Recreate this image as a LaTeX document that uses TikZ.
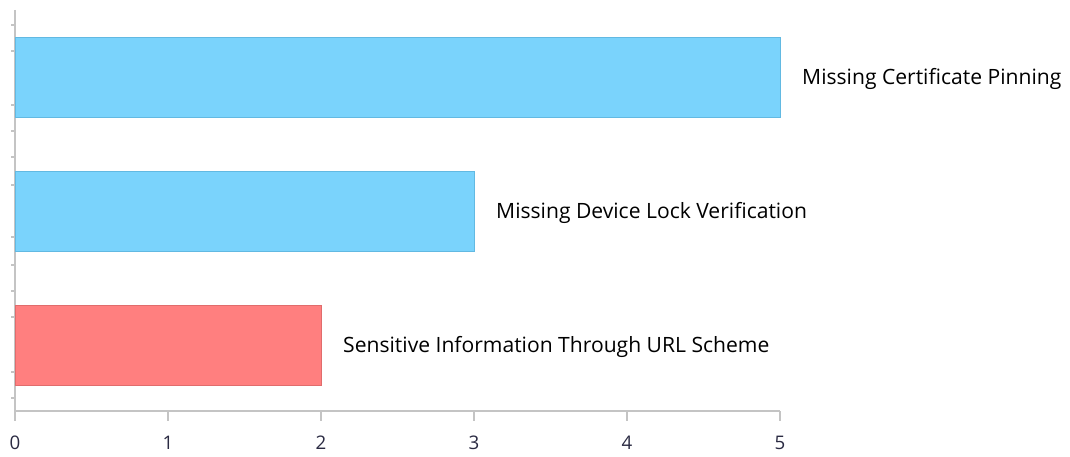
\documentclass[tikz,border=0pt]{standalone}
\usepackage{fontspec}
\setmainfont{Open Sans}
\usetikzlibrary{positioning}
\definecolor{skyFill}{HTML}{7AD3FC}
\definecolor{skyEdge}{HTML}{62B9E2}
\definecolor{roseFill}{HTML}{FF7F7F}
\definecolor{roseEdge}{HTML}{E06C6C}
\definecolor{axisgray}{HTML}{C4C4C4}
\definecolor{numnavy}{HTML}{2A2A42}
\begin{document}
\begin{tikzpicture}
[x=0.03cm,y=-0.03cm,
  bardecorate/.style={draw=#1Edge,fill=#1Fill,line width=0.8pt},
  axisdecorate/.style={draw=axisgray,line width=1.3pt},
  labeldecorate/.style={anchor=west,inner sep=0pt,text=black,
    font=\fontsize{18}{21}\selectfont},
  numdecorate/.style={inner sep=0pt,text=numnavy,
    font=\fontsize{16}{19}\selectfont}]
\useasboundingbox (0,0) rectangle (1070,457);
%% axes
\coordinate (ytop) at (15,10);
\coordinate (origin) at (15,411);
\coordinate (xend) at (780,411);
\draw[axisdecorate] (ytop) -- (origin) -- (xend);
\foreach \y in {25,51,105,131,157,185,237,265,291,317,372,398}
  \draw[axisdecorate] (11,\y) -- (15,\y);
%% ticks and numbers
\foreach \n in {0,...,5}
{
  \coordinate (tick\n) at (15+153*\n,411);
  \draw[axisdecorate] (tick\n) -- ++(0,10);
  \node (num\n) at (15+153*\n,443) [numdecorate] {\n};
}
%% bars and their labels
\foreach \name/\val/\y/\tone/\text in {pinning/5/77/sky/Missing Certificate Pinning,
  devicelock/3/211/sky/Missing Device Lock Verification,
  urlscheme/2/345/rose/Sensitive Information Through URL Scheme}
{
  \draw[bardecorate=\tone] (15,\y-40) rectangle (15+153*\val,\y+40);
  \node (\name) at (15+153*\val+22,\y+2) [labeldecorate] {\text};
}
\end{tikzpicture}
\end{document}
